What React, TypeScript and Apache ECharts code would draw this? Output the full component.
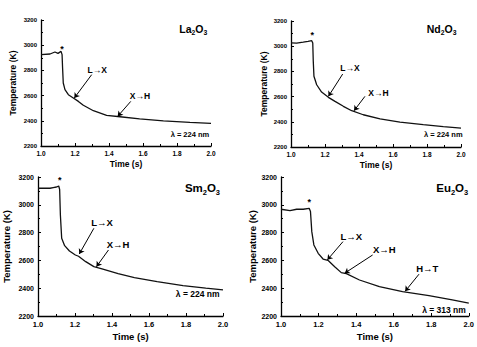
import React, { useEffect, useRef } from "react";
import * as echarts from "echarts";

// ---- data (time in s, temperature in K) ----
const laTime = [1.0, 1.053, 1.082, 1.1, 1.118, 1.124, 1.127, 1.131, 1.141, 1.161, 1.19, 1.22, 1.249, 1.308, 1.386, 1.465, 1.58, 1.72, 1.876, 2.0];
const laTemp = [2925, 2930, 2946, 2935, 2951, 2925, 2819, 2700, 2647, 2607, 2581, 2554, 2523, 2480, 2443, 2432, 2416, 2400, 2388, 2380];

const ndTime = [1.0, 1.033, 1.072, 1.1, 1.122, 1.128, 1.131, 1.135, 1.151, 1.18, 1.22, 1.259, 1.308, 1.357, 1.425, 1.524, 1.641, 1.778, 1.896, 2.0];
const ndTemp = [3027, 3025, 3033, 3039, 3044, 3025, 2880, 2761, 2694, 2636, 2594, 2562, 2523, 2488, 2456, 2424, 2398, 2377, 2361, 2350];

const smTime = [1.0, 1.065, 1.082, 1.1, 1.112, 1.117, 1.121, 1.128, 1.144, 1.17, 1.202, 1.219, 1.258, 1.302, 1.346, 1.433, 1.521, 1.644, 1.784, 1.907, 2.0];
const smTemp = [3119, 3119, 3124, 3128, 3135, 3110, 2927, 2759, 2706, 2668, 2639, 2630, 2591, 2555, 2539, 2505, 2476, 2447, 2418, 2400, 2388];

const euTime = [1.0, 1.048, 1.083, 1.118, 1.15, 1.157, 1.164, 1.175, 1.198, 1.224, 1.25, 1.286, 1.321, 1.348, 1.418, 1.524, 1.647, 1.788, 1.912, 2.0];
const euTemp = [2968, 2958, 2968, 2968, 2975, 2951, 2807, 2711, 2651, 2610, 2601, 2555, 2512, 2505, 2459, 2411, 2375, 2347, 2316, 2292];

// ---- axis ticks ----
const timeMin = 1.0;
const timeMax = 2.0;
const timeStep = 0.2;
const tempMin = 2200;
const tempMax = 3200;
const tempStep = 200;

// ---- labels ----
const compounds = [
  ["La", "2", "O", "3"],
  ["Nd", "2", "O", "3"],
  ["Sm", "2", "O", "3"],
  ["Eu", "2", "O", "3"],
];
const wavelengths = ["λ = 224 nm", "λ = 224 nm", "λ = 224 nm", "λ = 313 nm"];
const xTitle = "Time (s)";
const yTitle = "Temperature (K)";

// annotation anchors in data units [time, temperature]
const titleAnchors = [[1.896, 3128], [1.886, 3136], [1.889, 3119], [1.912, 3119]];
const lambdaAnchors = [[1.876, 2295], [1.896, 2297], [1.863, 2357], [1.868, 2244]];
const starAnchors = [[1.124, 2970], [1.125, 3091], [1.117, 3178], [1.15, 3022]];
const transitionLabels = [
  [["L→X", 1.331, 2805], ["X→H", 1.582, 2594]],
  [["L→X", 1.347, 2827], ["X→H", 1.514, 2628]],
  [["L→X", 1.346, 2871], ["X→H", 1.433, 2711]],
  [["L→X", 1.374, 2771], ["X→H", 1.55, 2675], ["H→T", 1.779, 2544]],
];
const arrowLines = [
  [[1.298, 2766, 1.196, 2581], [1.528, 2554, 1.451, 2435]],
  [[1.304, 2779, 1.22, 2602], [1.435, 2602, 1.371, 2488]],
  [[1.302, 2831, 1.223, 2646], [1.381, 2675, 1.316, 2555]],
  [[1.33, 2735, 1.247, 2604], [1.488, 2639, 1.339, 2508], [1.735, 2501, 1.661, 2378]],
];

const NARROW = '"Liberation Sans Narrow", "Liberation Sans", Arial, sans-serif';
const SANS = '"Liberation Sans", Arial, sans-serif';

const layouts = [
  { left: 41, top: 20, width: 170, height: 126, tick: 6.5, name: 8.5, xGap: 13, yGap: 24, big: false },
  { left: 291, top: 21, width: 170, height: 126, tick: 6.5, name: 8.5, xGap: 13, yGap: 23, big: false },
  { left: 33, top: 177, width: 190, height: 139, tick: 7.5, name: 9.5, xGap: 15, yGap: 27, big: true },
  { left: 281, top: 177, width: 189, height: 139, tick: 7.5, name: 9.5, xGap: 15, yGap: 23, big: true },
];

const series = [
  [laTime, laTemp],
  [ndTime, ndTemp],
  [smTime, smTemp],
  [euTime, euTemp],
];

function buildOption() {
  const grid: any[] = [];
  const xAxis: any[] = [];
  const yAxis: any[] = [];
  const ser: any[] = [];
  layouts.forEach((L, i) => {
    grid.push({ left: L.left, top: L.top, width: L.width, height: L.height, containLabel: false });
    const axisCommon = {
      axisLine: { show: true, onZero: false, lineStyle: { color: "#000", width: 1.3 } },
      axisTick: { show: true, inside: true, length: 3, lineStyle: { color: "#000", width: 1 } },
      minorTick: { show: true, splitNumber: 2, length: 2, lineStyle: { color: "#000", width: 1 } },
      splitLine: { show: false },
      nameTextStyle: { fontFamily: NARROW, fontWeight: "bold", fontSize: L.name, color: "#000" },
    };
    xAxis.push({
      type: "value",
      gridIndex: i,
      min: timeMin,
      max: timeMax,
      interval: timeStep,
      name: xTitle,
      nameLocation: "middle",
      nameGap: L.xGap,
      axisLabel: {
        fontFamily: NARROW,
        fontWeight: "bold",
        fontSize: L.tick,
        color: "#000",
        margin: 4,
        formatter: (v: number) => v.toFixed(1),
      },
      ...axisCommon,
    });
    yAxis.push({
      type: "value",
      gridIndex: i,
      min: tempMin,
      max: tempMax,
      interval: tempStep,
      name: yTitle,
      nameLocation: "middle",
      nameGap: L.yGap,
      axisLabel: {
        fontFamily: NARROW,
        fontWeight: "bold",
        fontSize: L.tick - 0.5,
        color: "#000",
        margin: 4,
        formatter: (v: number) => String(Math.round(v)),
      },
      ...axisCommon,
    });

    const [ts, vs] = series[i];
    const c = compounds[i];
    const titleSize = L.big ? 11.5 : 10.5;
    const annSize = L.big ? 9.5 : 8.5;
    const mp: any[] = [];
    mp.push({
      coord: titleAnchors[i],
      label: {
        formatter: `{n|${c[0]}}{s|${c[1]}}{n|${c[2]}}{s|${c[3]}}`,
        rich: {
          n: { fontFamily: SANS, fontWeight: "bold", fontSize: titleSize, color: "#000", lineHeight: titleSize + 4 },
          s: { fontFamily: SANS, fontWeight: "bold", fontSize: titleSize * 0.65, color: "#000", lineHeight: titleSize * 0.65, verticalAlign: "bottom" },
        },
      },
    });
    mp.push({
      coord: lambdaAnchors[i],
      label: { formatter: wavelengths[i], fontFamily: SANS, fontWeight: "bold", fontSize: L.big ? 8.5 : 7.5, color: "#000" },
    });
    mp.push({
      coord: starAnchors[i],
      label: { formatter: "*", fontFamily: SANS, fontWeight: "bold", fontSize: 9, color: "#000" },
    });
    transitionLabels[i].forEach((t: any) => {
      mp.push({
        coord: [t[1], t[2]],
        label: { formatter: t[0], fontFamily: SANS, fontWeight: "bold", fontSize: annSize, color: "#000" },
      });
    });

    ser.push({
      type: "line",
      xAxisIndex: i,
      yAxisIndex: i,
      data: ts.map((t, k) => [t, vs[k]]),
      showSymbol: false,
      symbol: "none",
      lineStyle: { color: "#111", width: 1.3 },
      silent: true,
      markPoint: {
        silent: true,
        symbol: "circle",
        symbolSize: 1,
        itemStyle: { color: "rgba(0,0,0,0)" },
        label: { show: true, position: "inside" },
        data: mp,
      },
      markLine: {
        silent: true,
        symbol: ["none", "arrow"],
        symbolSize: 5,
        lineStyle: { color: "#000", width: 1, type: "solid" },
        label: { show: false },
        data: arrowLines[i].map((a) => [{ coord: [a[0], a[1]] }, { coord: [a[2], a[3]] }]),
      },
    });
  });
  return {
    animation: false,
    backgroundColor: "#fff",
    textStyle: { fontFamily: SANS },
    grid,
    xAxis,
    yAxis,
    series: ser,
  };
}

export default function App() {
  const ref = useRef<HTMLDivElement>(null);
  useEffect(() => {
    if (!ref.current) return;
    const chart = echarts.init(ref.current, undefined, { renderer: "svg" });
    chart.setOption(buildOption() as any);
    return () => chart.dispose();
  }, []);
  return (
    <div
      ref={ref}
      style={{ position: "absolute", left: 0, top: 0, width: 477, height: 347, background: "#fff" }}
    />
  );
}
